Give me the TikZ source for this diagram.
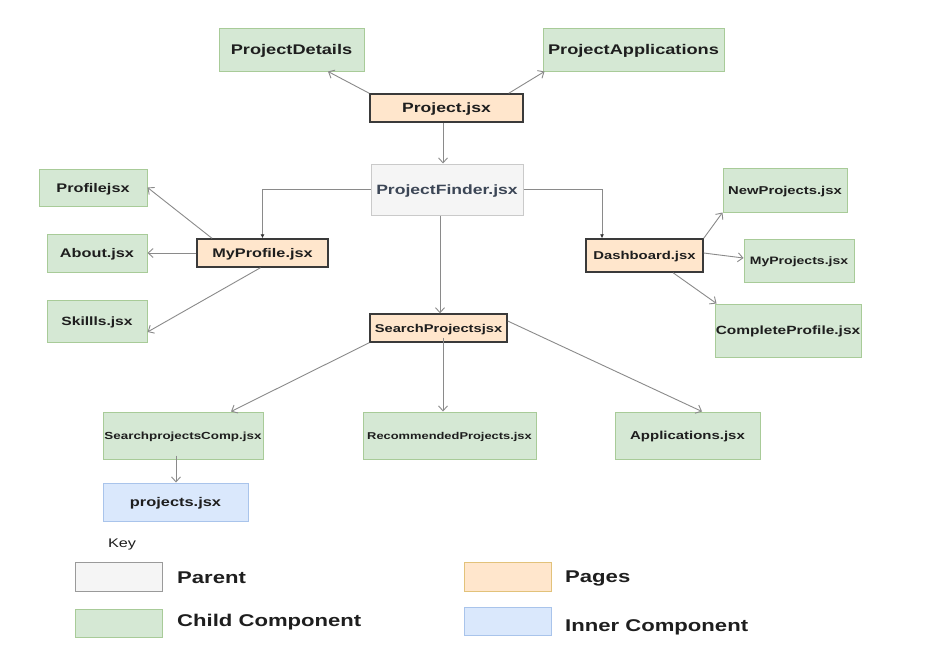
\documentclass[tikz,border=0pt]{standalone}
\usepackage{fontspec}
\setmainfont{Liberation Sans}[FakeStretch=1.3]
\usetikzlibrary{arrows.meta,positioning}
\definecolor{gfill}{HTML}{D5E8D4}
\definecolor{gline}{HTML}{A8CB98}
\definecolor{ofill}{HTML}{FFE6CC}
\definecolor{oline}{HTML}{E2C27A}
\definecolor{pline}{HTML}{3A3A3A}
\definecolor{bfill}{HTML}{DAE8FC}
\definecolor{bline}{HTML}{A9C4EB}
\definecolor{pfill}{HTML}{F5F5F5}
\definecolor{pfline}{HTML}{CACACA}
\definecolor{lgline}{HTML}{9A9A9A}
\definecolor{conn}{HTML}{8A8A8A}
\definecolor{txt}{HTML}{1E1E1E}
\definecolor{pftxt}{HTML}{3C4656}
\newcommand{\fsz}[1]{\fontsize{#1pt}{#1pt}\selectfont}
\begin{document}
\begin{tikzpicture}[x=1pt,y=-1pt,
  box/.style={draw, inner sep=0pt, line width=1pt, text depth=0pt, text=txt, font=\bfseries},
  child/.style={box, fill=gfill, draw=gline},
  page/.style={box, fill=ofill, draw=pline, line width=1.4pt},
  parentbox/.style={box, fill=pfill, draw=pfline, text=pftxt},
  inner/.style={box, fill=bfill, draw=bline},
  conn/.style={draw=conn, line width=0.9pt, -{Straight Barb[length=5pt,width=9pt]}},
  fconn/.style={draw=conn, line width=0.9pt, -{Latex[length=4pt,width=4pt,color=black!80]}},
  legtxt/.style={anchor=west, inner sep=0pt, text=txt, font=\bfseries\fsz{17}}
]
\useasboundingbox[fill=white] (0,0) rectangle (925,667);

% top
\node[child, minimum width=145, minimum height=43, font=\bfseries\fsz{14}] (pd) at (291.5,49.5) {ProjectDetails};
\node[child, minimum width=181, minimum height=43, font=\bfseries\fsz{14}] (pa) at (633.5,49.5) {ProjectApplications};
\node[page, minimum width=153, minimum height=28, font=\bfseries\fsz{13.5}] (pj) at (446.5,108) {Project.jsx};
\node[parentbox, minimum width=152, minimum height=51, font=\bfseries\fsz{13.5}] (pf) at (447,189.5) {ProjectFinder.jsx};

% left
\node[child, minimum width=108, minimum height=37, font=\bfseries\fsz{12.5}] (pr) at (93,187.5) {Profilejsx};
\node[child, minimum width=100, minimum height=38, font=\bfseries\fsz{12.5}] (ab) at (97,253) {About.jsx};
\node[page, minimum width=131, minimum height=28, font=\bfseries\fsz{12.5}] (mp) at (262.5,253) {MyProfile.jsx};
\node[child, minimum width=100, minimum height=42, font=\bfseries\fsz{12}] (sk) at (97,321) {Skillls.jsx};

% right
\node[page, minimum width=117, minimum height=33, font=\bfseries\fsz{11.4}] (db) at (644.5,255.5) {Dashboard.jsx};
\node[child, minimum width=124, minimum height=44, font=\bfseries\fsz{11.4}] (np) at (785,190) {NewProjects.jsx};
\node[child, minimum width=110, minimum height=43, font=\bfseries\fsz{10.8}] (my) at (799,260.5) {MyProjects.jsx};
\node[child, minimum width=146, minimum height=53, font=\bfseries\fsz{11.9}] (cp) at (788,330.5) {CompleteProfile.jsx};

% bottom
\node[page, minimum width=137, minimum height=28, font=\bfseries\fsz{11.3}] (sp) at (438.5,328) {SearchProjectsjsx};
\node[child, minimum width=160, minimum height=47, font=\bfseries\fsz{10.3}] (sc) at (183,435.5) {SearchprojectsComp.jsx};
\node[child, minimum width=173, minimum height=47, font=\bfseries\fsz{9.9}] (rp) at (449.5,435.5) {RecommendedProjects.jsx};
\node[child, minimum width=145, minimum height=47, font=\bfseries\fsz{11.5}] (ap) at (687.5,435.5) {Applications.jsx};
\node[inner, minimum width=145, minimum height=38, font=\bfseries\fsz{12.6}] (pjs) at (175.5,502) {projects.jsx};

% connectors
\draw[conn] (pj.north west) -- ([xshift=36.5pt]pd.south);
\draw[conn] ([xshift=-15pt]pj.north east) -- ([xshift=2pt]pa.south west);
\draw[conn] ([xshift=-3.5pt]pj.south) -- ([xshift=-4pt]pf.north);
\draw[fconn] (pf.west) -| (mp.north);
\draw[fconn] (pf.east) -| ([xshift=-42.5pt]db.north);
\draw[conn] ([xshift=-7pt]pf.south) -- ([xshift=1.5pt]sp.north);

\draw[conn] ([xshift=-50.5pt]mp.north) -- (pr.east);
\draw[conn] (mp.west) -- (ab.east);
\draw[conn] ([xshift=-2pt]mp.south) -- ([yshift=-11pt]sk.east);

\draw[conn] (db.north east) -- (np.south west);
\draw[conn] ([yshift=2.5pt]db.east) -- ([yshift=2.5pt]my.west);
\draw[conn] ([xshift=28.5pt]db.south) -- ([xshift=2pt]cp.north west);

\draw[conn] (sp.south west) -- ([xshift=48pt]sc.north);
\draw[conn] ([xshift=4.5pt,yshift=5pt]sp.south) -- ([xshift=-6.5pt]rp.north);
\draw[conn] ([yshift=7pt]sp.east) -- ([xshift=14.5pt]ap.north);
\draw[conn] ([xshift=-7pt,yshift=4pt]sc.south) -- ([xshift=0.5pt]pjs.north);

% key
\node[inner sep=0pt, text=txt, font=\fsz{12.5}] (key) at (122,544) {Key};
\node[box, fill=pfill, draw=lgline, minimum width=87, minimum height=29] (lpar) at (118.5,576.5) {};
\node[legtxt] (tpar) at (177,578) {Parent};
\node[box, fill=ofill, draw=oline, minimum width=87, minimum height=29] (lpag) at (507.5,576.5) {};
\node[legtxt] (tpag) at (565,578) {Pages};
\node[box, fill=gfill, draw=gline, minimum width=87, minimum height=28] (lchi) at (118.5,623) {};
\node[legtxt] (tchi) at (177,622) {Child Component};
\node[box, fill=bfill, draw=bline, minimum width=87, minimum height=28] (linn) at (507.5,621) {};
\node[legtxt] (tinn) at (565,627) {Inner Component};
\end{tikzpicture}
\end{document}
